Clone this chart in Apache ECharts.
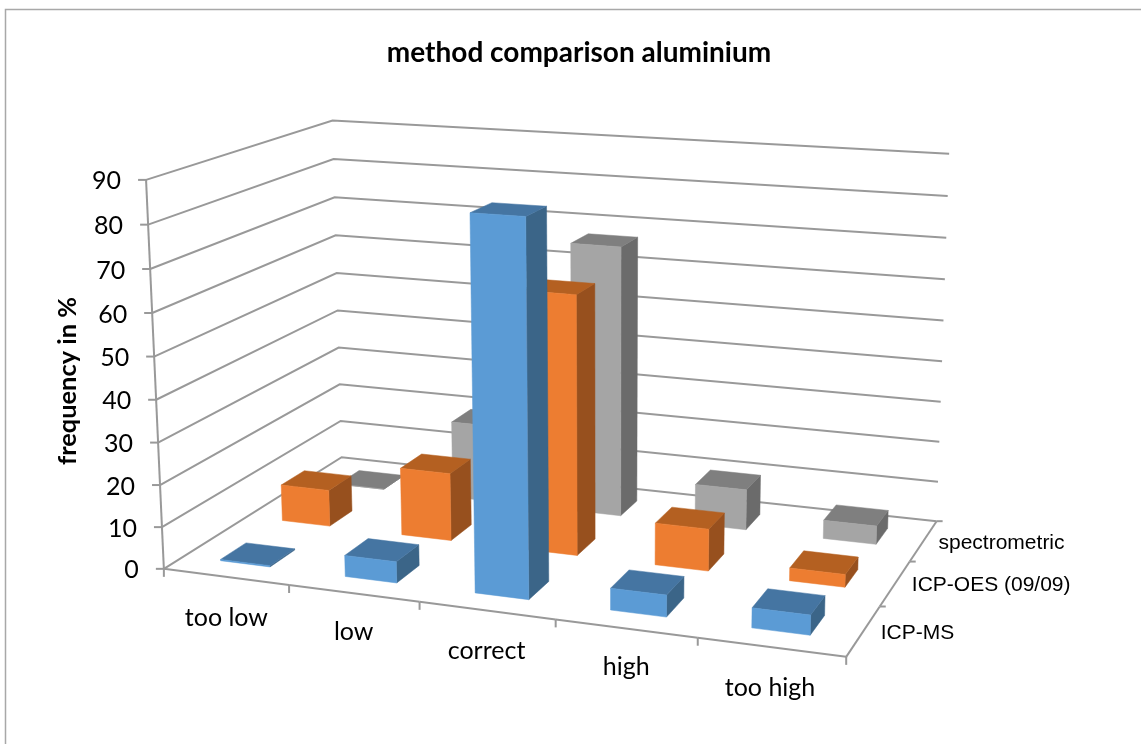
<!DOCTYPE html>
<html><head><meta charset="utf-8">
<style>html,body{margin:0;padding:0;background:#fff}#c{width:1141px;height:744px}</style>
<script src="https://cdn.jsdelivr.net/npm/echarts@6/dist/echarts.min.js"></script>
</head><body><div id="c"></div>
<script>
const categories = ['too low','low','correct','high','too high'];
const methods = ['ICP-MS','ICP-OES (09/09)','spectrometric'];
const yTicks = [0,10,20,30,40,50,60,70,80,90];
const icpMs = [0.3,5,85.6,5,4.5];
const icpOes = [9,16.5,62,10,3];
const spectrometric = [0,19.5,67,10,4.5];
const chartTitle = 'method comparison aluminium';
const yName = 'frequency in %';

const faceColors = [
  {front:'#5B9BD5',top:'#4575A2',side:'#3B6588'},
  {front:'#ED7D31',top:'#B46021',side:'#97501E'},
  {front:'#A5A5A5',top:'#7F7F7F',side:'#6B6B6B'}
];
const barFrac = 0.4;
const lineColor = '#999999';
const catFont = '25px Lato';
const serFont = '21px "Liberation Sans"';

// camera calibration: world (x along categories, y depth, z value) -> screen anchor pairs
const anchors = [
 [0,0,0,165,569],[1,0,0,290,585],[2,0,0,420,602],[3,0,0,555,619.5],[4,0,0,697,638],[5,0,0,846,657],
 [5,1,0,880,606.5],[5,2,0,910,561],[5,3,0,937,521],[0,3,0,341,457],
 [0,0,90,146,179],[0,3,90,333,121],[5,3,90,949,154],[0,0,40,155,400],[0,3,50,337,273],[0,3,10,340,421]
];
function fitCamera(pts){
  const n=11,A=[...Array(n)].map(()=>Array(n+1).fill(0));
  const add=(r,b)=>{for(let i=0;i<n;i++){for(let j=0;j<n;j++)A[i][j]+=r[i]*r[j];A[i][n]+=r[i]*b;}};
  pts.forEach(([X,Y,Z,u,v])=>{
    const z=Z/90,U=u/1000,V=v/1000;
    add([X,Y,z,1,0,0,0,0,-U*X,-U*Y,-U*z],U);
    add([0,0,0,0,X,Y,z,1,-V*X,-V*Y,-V*z],V);
  });
  for(let c=0;c<n;c++){
    let p=c;for(let r=c+1;r<n;r++)if(Math.abs(A[r][c])>Math.abs(A[p][c]))p=r;
    [A[c],A[p]]=[A[p],A[c]];
    for(let r=0;r<n;r++){if(r===c)continue;const f=A[r][c]/A[c][c];for(let k=c;k<=n;k++)A[r][k]-=f*A[c][k];}
  }
  return A.map((row,i)=>row[n]/row[i]);
}
const cam = fitCamera(anchors);
function project(x,y,zNorm){
  const w=cam[8]*x+cam[9]*y+cam[10]*zNorm+1;
  return [(cam[0]*x+cam[1]*y+cam[2]*zNorm+cam[3])/w*1000,(cam[4]*x+cam[5]*y+cam[6]*zNorm+cam[7])/w*1000];
}
// reads scale values through the hidden axes
function worldOf(api,params,catIndex,val){
  const cs=params.coordSys,p=api.coord([catIndex,val]);
  return {x:(p[0]-cs.x)/cs.width*categories.length, z:(cs.y+cs.height-p[1])/cs.height};
}
function line(pts,w){return {type:'polyline',silent:true,shape:{points:pts},style:{stroke:lineColor,lineWidth:w||2,fill:null}};}
function txt(x,y,t,font,align,fill,rot){
  return {type:'text',silent:true,x:x,y:y,rotation:rot||0,style:{text:t,font:font,fill:fill||'#000',align:align||'center',verticalAlign:'middle'}};
}

function barSeries(name,values,j){
  return {
    name:name,type:'custom',coordinateSystem:'cartesian2d',z:10+(methods.length-j),silent:true,clip:false,
    encode:{x:0,y:1},
    data:values.map((v,i)=>[i,v]),
    renderItem(params,api){
      const i=api.value(0),v=api.value(1),w=worldOf(api,params,i,v),c=faceColors[j];
      const cx=w.x*0.997;
      const x0=cx-barFrac/2,x1=cx+barFrac/2,y0=j+0.5-barFrac/2,y1=j+0.5+barFrac/2,z=w.z;
      const P=(x,y,zz)=>project(x,y,zz);
      const poly=(pts,col)=>({type:'polygon',silent:true,shape:{points:pts},style:{fill:col,stroke:col,lineWidth:0.5}});
      return {type:'group',children:[
        poly([P(x1,y0,0),P(x1,y1,0),P(x1,y1,z),P(x1,y0,z)],c.side),
        poly([P(x0,y0,z),P(x1,y0,z),P(x1,y1,z),P(x0,y1,z)],c.top),
        poly([P(x0,y0,0),P(x1,y0,0),P(x1,y0,z),P(x0,y0,z)],c.front)
      ]};
    }
  };
}
const chart = echarts.init(document.getElementById('c'),null,{renderer:'canvas'});
chart.setOption({
  animation:false,backgroundColor:'#fff',
  title:{text:chartTitle,left:574,top:34,textAlign:'center',
    textStyle:{fontFamily:'Lato',fontWeight:'bold',fontSize:28,color:'#000'}},
  grid:{left:0,top:0,width:1000,height:600},
  xAxis:{type:'category',data:categories,show:false},
  yAxis:{type:'value',min:0,max:90,interval:10,show:false},
  graphic:[{type:'polyline',silent:true,z:0,shape:{points:[[5.5,760],[5.5,9.5],[1141,9.5]]},style:{fill:null,stroke:'#a8a8a8',lineWidth:1.5}}],
  series:[
    { // walls, floor edges, value ticks and labels
      type:'custom',coordinateSystem:'cartesian2d',z:1,silent:true,clip:false,encode:{x:0,y:1},
      data:yTicks.map(t=>[0,t]),
      renderItem(params,api){
        const v=api.value(1),z=worldOf(api,params,0,v).z,n=categories.length,d=methods.length;
        const a=project(0,0,z),b=project(0,d,z),c=project(n,d,z);
        const kids=[line([a,b,c]),line([[a[0]-8,a[1]],a]),txt(a[0]-25,a[1]+1.5,String(v),catFont,'right')];
        if(v===0) kids.push(line([project(0,0,0),project(0,0,1)]));
        return {type:'group',children:kids};
      }
    },
    { // category axis
      type:'custom',coordinateSystem:'cartesian2d',z:2,silent:true,clip:false,encode:{x:0,y:1},
      data:categories.map((c,i)=>[i,0]),
      renderItem(params,api){
        const i=api.value(0),w=worldOf(api,params,i,0),n=categories.length;
        const s=project(w.x-0.5,0,0),e=project(w.x+0.5,0,0),m=project(w.x+0.1,0,0);
        const kids=[line([s,e]),line([s,[s[0],s[1]+8]])];
        if(i===n-1) kids.push(line([e,[e[0],e[1]+8]]));
        kids.push(txt(m[0]-[12,13,14,14,16][i],m[1]+[39,37,39,37,39][i],categories[i],catFont,'center'));
        return {type:'group',children:kids};
      }
    },
    { // depth axis
      type:'custom',coordinateSystem:'cartesian2d',z:2,silent:true,clip:false,encode:{x:0,y:1},
      data:methods.map((m,j)=>[j,0]),
      renderItem(params,api){
        const j=api.value(0),n=categories.length;
        const s=project(n,j,0),e=project(n,j+1,0),m=project(n,j+0.5,0);
        return {type:'group',children:[line([s,e]),line([e,[e[0]+6,e[1]]]),txt(m[0]+[54,96,78][j],m[1]+2,methods[j],serFont,'center')]};
      }
    },
    {
      type:'custom',coordinateSystem:'cartesian2d',z:3,silent:true,clip:false,encode:{x:0,y:1},
      data:[[0,45]],
      renderItem(params,api){
        return txt(68,381,yName,'bold 25.4px Lato','center','#000',Math.PI/2);
      }
    },
    barSeries(methods[2],spectrometric,2),
    barSeries(methods[1],icpOes,1),
    barSeries(methods[0],icpMs,0)
  ]
});
</script></body></html>
